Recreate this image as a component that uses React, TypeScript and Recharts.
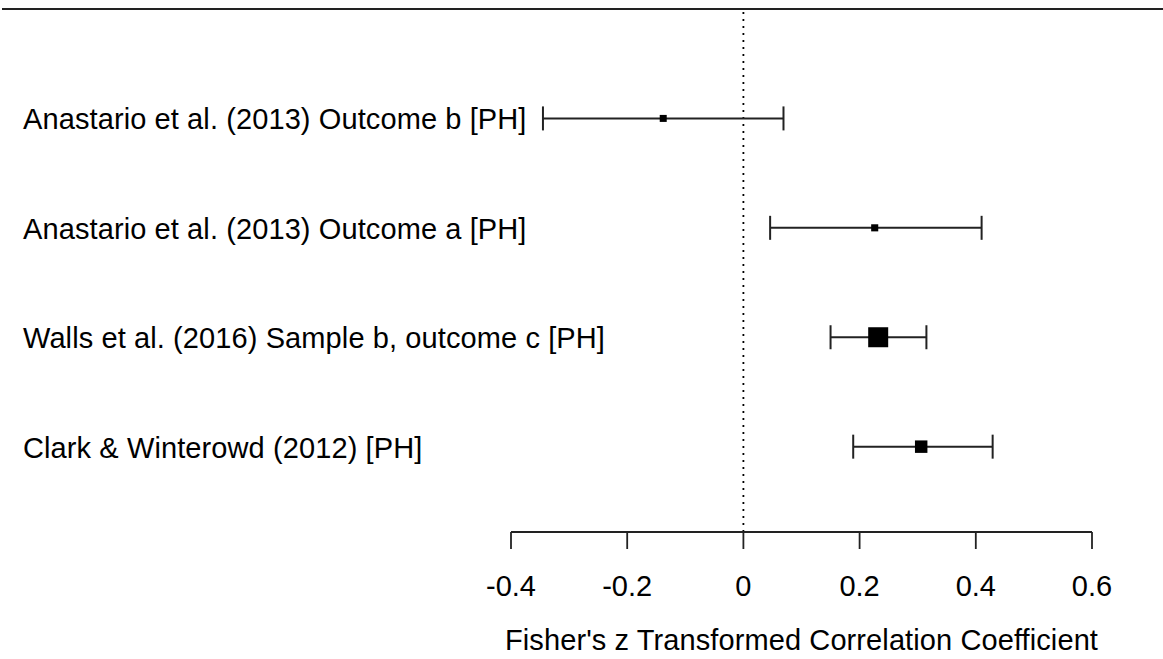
import {
  ComposedChart,
  Scatter,
  ErrorBar,
  XAxis,
  YAxis,
  ReferenceLine,
} from "recharts";

const studies = [
  "Anastario et al. (2013) Outcome b [PH]",
  "Anastario et al. (2013) Outcome a [PH]",
  "Walls et al. (2016) Sample b, outcome c [PH]",
  "Clark & Winterowd (2012) [PH]",
];
const estimates = [-0.138, 0.226, 0.232, 0.306];
const ciLower = [-0.345, 0.046, 0.15, 0.189];
const ciUpper = [0.069, 0.41, 0.315, 0.429];
const weights = [8.7, 9.0, 54.4, 27.9];
const xTicks = [-0.4, -0.2, 0, 0.2, 0.4, 0.6];

const FONT = '"Liberation Sans", Arial, sans-serif';

const wMin = Math.min(...weights);
const wMax = Math.max(...weights);

const rows = studies.map((name, i) => ({
  name,
  est: estimates[i],
  row: studies.length - i,
  err: [estimates[i] - ciLower[i], ciUpper[i] - estimates[i]],
  w: weights[i],
}));

const rowNames: Record<number, string> = {};
rows.forEach((r) => (rowNames[r.row] = r.name));

function StudyTick(props: any) {
  const { y, payload } = props;
  return (
    <text
      x={23}
      y={y}
      dy="0.38em"
      textAnchor="start"
      fontSize={29}
      letterSpacing={0.1}
      fontFamily={FONT}
      fill="#000"
    >
      {rowNames[payload.value]}
    </text>
  );
}

function SquareShape(props: any) {
  const { cx, cy, payload } = props;
  const s = 7 + ((payload.w - wMin) / (wMax - wMin)) * 13;
  return <rect x={cx - s / 2} y={cy - s / 2} width={s} height={s} fill="#000" />;
}

export default function App() {
  return (
    <div style={{ position: "absolute", left: 0, top: 0, width: 1163, height: 659, background: "#fff" }}>
      <div style={{ position: "absolute", left: 2, top: 7.5, width: 1161, height: 2, background: "#222" }} />
      <ComposedChart
        width={1163}
        height={659}
        data={rows}
        margin={{ top: 9, right: 71, bottom: 0, left: 0 }}
      >
        <XAxis
          type="number"
          dataKey="est"
          domain={[-0.4, 0.6]}
          ticks={xTicks}
          allowDataOverflow
          height={127}
          tickSize={17}
          tickMargin={26}
          stroke="#222"
          strokeWidth={1.8}
          tick={{ fontSize: 29, fontFamily: FONT, fill: "#000" }}
          label={{
            value: "Fisher's z Transformed Correlation Coefficient",
            position: "insideBottom",
            offset: 9,
            fontSize: 29,
            letterSpacing: 0.1,
            fontFamily: FONT,
            fill: "#000",
          }}
        />
        <YAxis
          type="number"
          dataKey="row"
          domain={[0.22, 5]}
          ticks={[1, 2, 3, 4]}
          allowDataOverflow
          width={511}
          axisLine={false}
          tickLine={false}
          tick={<StudyTick />}
        />
        <ReferenceLine x={0} stroke="#000" strokeWidth={1.8} strokeDasharray="2 5" />
        <Scatter dataKey="row" shape={<SquareShape />} isAnimationActive={false}>
          <ErrorBar dataKey="err" direction="x" width={12} stroke="#222" strokeWidth={2} isAnimationActive={false} />
        </Scatter>
      </ComposedChart>
    </div>
  );
}
